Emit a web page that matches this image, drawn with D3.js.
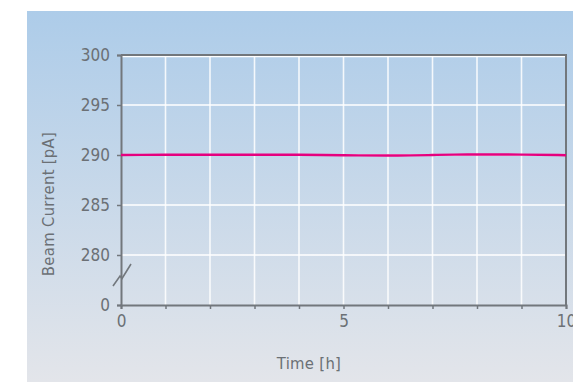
<!DOCTYPE html>
<html><head><meta charset="utf-8">
<script src="https://cdn.jsdelivr.net/npm/d3@7"></script>
<style>
html,body{margin:0;padding:0;background:#fff;}
svg{display:block;}
text{font-family:"DejaVu Sans Condensed","DejaVu Sans","Open Sans",sans-serif;font-stretch:condensed;fill:#6b7075;}
</style></head><body>
<svg id="c" width="573" height="382"></svg>
<script>
const timeH = [0, 1, 2, 3, 4, 5, 6, 6.5, 7, 7.5, 8, 9, 10];
const beamCurrent = [290.0, 290.02, 290.03, 290.03, 290.02, 289.97, 289.95, 289.96, 290.0, 290.04, 290.05, 290.04, 289.98];
const yTicks = [280, 285, 290, 295, 300];
const yBreakValue = 275;
const yBreakLabel = "0";
const xTicks = [0, 1, 2, 3, 4, 5, 6, 7, 8, 9, 10];
const xLabeled = [0, 5, 10];
const xTitle = "Time [h]";
const yTitle = "Beam Current [pA]";

const svg = d3.select("#c");
const defs = svg.append("defs");
const g = defs.append("linearGradient").attr("id","bg").attr("x1",0).attr("y1",0).attr("x2",0).attr("y2",1);
g.append("stop").attr("offset","0%").attr("stop-color","#adcce9");
g.append("stop").attr("offset","100%").attr("stop-color","#e3e5ea");
svg.append("rect").attr("x",27).attr("y",11).attr("width",546).attr("height",371).attr("fill","url(#bg)");

const L=121, R=566, T=55, B=305;
const x = d3.scaleLinear().domain([0,10]).range([L,R]);
const y = d3.scaleLinear().domain([yBreakValue,300]).range([B,T]);
const axisCol = "#72777c";

// grid
svg.append("g").selectAll("line").data(xTicks.filter(d=>d>0&&d<10)).join("line")
  .attr("x1",d=>x(d)).attr("x2",d=>x(d)).attr("y1",T).attr("y2",B)
  .attr("stroke","#fff").attr("stroke-opacity",0.85).attr("stroke-width",1.6);
svg.append("g").selectAll("line").data(yTicks).join("line")
  .attr("x1",L).attr("x2",R).attr("y1",d=>y(d)+(d===300?1.5:0)).attr("y2",d=>y(d)+(d===300?1.5:0))
  .attr("stroke","#fff").attr("stroke-width",1.6);

// frame top/right
svg.append("line").attr("x1",L).attr("x2",R+1).attr("y1",T).attr("y2",T).attr("stroke",axisCol).attr("stroke-width",2);
svg.append("line").attr("x1",R).attr("x2",R).attr("y1",T).attr("y2",B).attr("stroke",axisCol).attr("stroke-width",2);

// y axis
const yAxis = d3.axisLeft(y).tickValues(yTicks.concat([yBreakValue])).tickSize(4).tickPadding(7)
  .tickFormat(d=>d===yBreakValue?yBreakLabel:d);
const ya = svg.append("g").attr("transform",`translate(${L},0)`).call(yAxis);
ya.select(".domain").attr("stroke",axisCol).attr("stroke-width",2);
ya.selectAll(".tick line").attr("stroke",axisCol).attr("stroke-width",1.5);
ya.selectAll(".tick text").attr("font-size",17).attr("font-family",null).attr("fill",null);

// x axis
const xAxis = d3.axisBottom(x).tickValues(xTicks).tickSize(4).tickPadding(6)
  .tickFormat(d=>xLabeled.includes(d)?d:"");
const xa = svg.append("g").attr("transform",`translate(0,${B})`).call(xAxis);
xa.select(".domain").attr("stroke",axisCol).attr("stroke-width",2);
xa.selectAll(".tick line").attr("stroke",axisCol).attr("stroke-width",1.5);
xa.selectAll(".tick text").attr("font-size",17).attr("font-family",null).attr("fill",null);

// break mark
svg.append("path").attr("d","M113,286 L120,276 L122,278.5 L131,264")
  .attr("fill","none").attr("stroke",axisCol).attr("stroke-width",1.6);

// data line
const line = d3.line().x((d,i)=>x(timeH[i])).y(d=>y(d)).curve(d3.curveMonotoneX);
svg.append("path").datum(beamCurrent).attr("d",line)
  .attr("fill","none").attr("stroke","#e6007e").attr("stroke-width",2.4);

// titles
svg.append("text").attr("x",309).attr("y",369).attr("text-anchor","middle").attr("font-size",16.5).attr("letter-spacing",0.3).text(xTitle);
svg.append("text").attr("transform","translate(54,204) rotate(-90)").attr("text-anchor","middle").attr("font-size",16.5).attr("letter-spacing",0.3).text(yTitle);
</script></body></html>
